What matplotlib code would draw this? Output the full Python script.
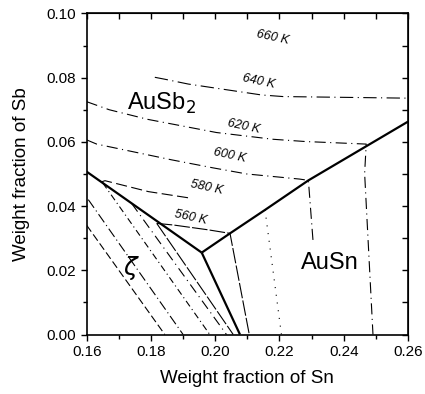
import matplotlib.pyplot as plt
from matplotlib.ticker import MultipleLocator, NullFormatter

plt.rcParams['font.family'] = ['Liberation Sans', 'DejaVu Sans']

## limites de phase (traits epais)
bord_gauche_sn = [0.160, 0.1958]
bord_gauche_sb = [0.0507, 0.0255]
bord_bas_sn = [0.1958, 0.2077]
bord_bas_sb = [0.0255, 0.0]
bord_droit_sn = [0.1958, 0.2046, 0.2155, 0.229, 0.260]
bord_droit_sb = [0.0255, 0.0315, 0.0388, 0.048, 0.0663]

## isothermes
iso_640_sn = [0.1812, 0.1843, 0.1916, 0.2077, 0.2144, 0.2211, 0.2600]
iso_640_sb = [0.0801, 0.0795, 0.0780, 0.0756, 0.0746, 0.0741, 0.0736]
iso_620_sn = [0.160, 0.167, 0.179, 0.2004, 0.218, 0.228, 0.247, 0.2465, 0.2491]
iso_620_sb = [0.0725, 0.0700, 0.0670, 0.0629, 0.0608, 0.0601, 0.0593, 0.0502, 0.0]
iso_600_sn = [0.160, 0.1631, 0.1864, 0.1993, 0.2098, 0.2263, 0.229, 0.2305]
iso_600_sb = [0.0606, 0.0593, 0.0544, 0.0519, 0.0500, 0.0484, 0.0480, 0.0284]
iso_580_sn = [0.1645, 0.1657, 0.1792, 0.1921]
iso_580_sb = [0.0475, 0.0479, 0.0445, 0.0425]
iso_580b_sn = [0.2155, 0.2206]
iso_580b_sb = [0.0388, 0.0]
iso_560_sn = [0.1818, 0.1870, 0.1978, 0.2046, 0.2106]
iso_560_sb = [0.0346, 0.0341, 0.0326, 0.0315, 0.0]

## lignes dans la zone zeta (debut, fin)
zeta_sn = [(0.1600, 0.1843), (0.1605, 0.1900), (0.1650, 0.1983), (0.1740, 0.2035), (0.1818, 0.2056)]
zeta_sb = [(0.0340, 0.0), (0.0420, 0.0), (0.0472, 0.0), (0.0408, 0.0), (0.0346, 0.0)]
zeta_style = [(0, (7, 3)), (0, (9, 3, 1, 3)), (0, (6, 3, 1, 3)), (0, (9, 4, 1, 4)), (0, (14, 2))]

## etiquettes
labels_iso = ['660 K', '640 K', '620 K', '600 K', '580 K', '560 K']
labels_sn = [0.2180, 0.2136, 0.2090, 0.2046, 0.1973, 0.1924]
labels_sb = [0.0926, 0.0788, 0.0647, 0.0556, 0.0459, 0.0365]

fig = plt.figure(figsize=(4.25, 3.94), dpi=100)
ax = fig.add_axes([0.204, 0.151, 0.756, 0.815])

epais = dict(color='black', lw=1.6, solid_capstyle='butt')
ax.plot(bord_gauche_sn, bord_gauche_sb, **epais)
ax.plot(bord_bas_sn, bord_bas_sb, **epais)
ax.plot(bord_droit_sn, bord_droit_sb, **epais)

fin = dict(color='black', lw=0.8)
ax.plot(iso_640_sn, iso_640_sb, ls=(0, (12, 4, 1, 4)), **fin)
ax.plot(iso_620_sn, iso_620_sb, ls=(0, (10, 4, 1, 4)), **fin)
ax.plot(iso_600_sn, iso_600_sb, ls=(0, (10, 4, 1, 4)), **fin)
ax.plot(iso_580_sn, iso_580_sb, ls=(0, (10, 4)), **fin)
ax.plot(iso_580b_sn, iso_580b_sb, ls=(0, (1, 6)), **fin)
ax.plot(iso_560_sn, iso_560_sb, ls=(0, (14, 2)), **fin)

for i in range(len(zeta_sn)):
    ax.plot(zeta_sn[i], zeta_sb[i], ls=zeta_style[i], **fin)

for i in range(len(labels_iso)):
    ax.text(labels_sn[i], labels_sb[i], labels_iso[i], fontsize=9, style='italic',
            rotation=-12, ha='center', va='center')

ax.text(0.1833, 0.0720, 'AuSb$_2$', fontsize=17, ha='center', va='center')
ax.text(0.2357, 0.0222, 'AuSn', fontsize=17, ha='center', va='center')
ax.text(0.1740, 0.0206, r'$\zeta$', fontsize=18, ha='center', va='center')

ax.set_xlim(0.16, 0.26)
ax.set_ylim(0.0, 0.10)
ax.xaxis.set_major_locator(MultipleLocator(0.02))
ax.xaxis.set_minor_locator(MultipleLocator(0.01))
ax.yaxis.set_major_locator(MultipleLocator(0.02))
ax.yaxis.set_minor_locator(MultipleLocator(0.01))
ax.xaxis.set_major_formatter(plt.FormatStrFormatter('%.2f'))
ax.yaxis.set_major_formatter(plt.FormatStrFormatter('%.2f'))
ax.tick_params(which='both', direction='out', labelsize=11, width=1)
ax.tick_params(which='major', length=4)
ax.tick_params(which='minor', length=3)
for s in ax.spines.values():
    s.set_linewidth(1.2)

# ticks vers l'interieur en haut et a droite
haut = ax.secondary_xaxis('top')
droite = ax.secondary_yaxis('right')
for sec in (haut, droite):
    sec.xaxis.set_major_locator(MultipleLocator(0.01)) if sec is haut else sec.yaxis.set_major_locator(MultipleLocator(0.01))
    sec.tick_params(which='both', direction='in', length=4, width=1, labelsize=0)
haut.xaxis.set_major_formatter(NullFormatter())
droite.yaxis.set_major_formatter(NullFormatter())

ax.set_xlabel('Weight fraction of Sn', fontsize=13.5)
ax.set_ylabel('Weight fraction of Sb', fontsize=13.5)
ax.xaxis.set_label_coords(0.5, -0.11)
ax.yaxis.set_label_coords(-0.176, 0.5)

fig.savefig('out.png', dpi=100)
